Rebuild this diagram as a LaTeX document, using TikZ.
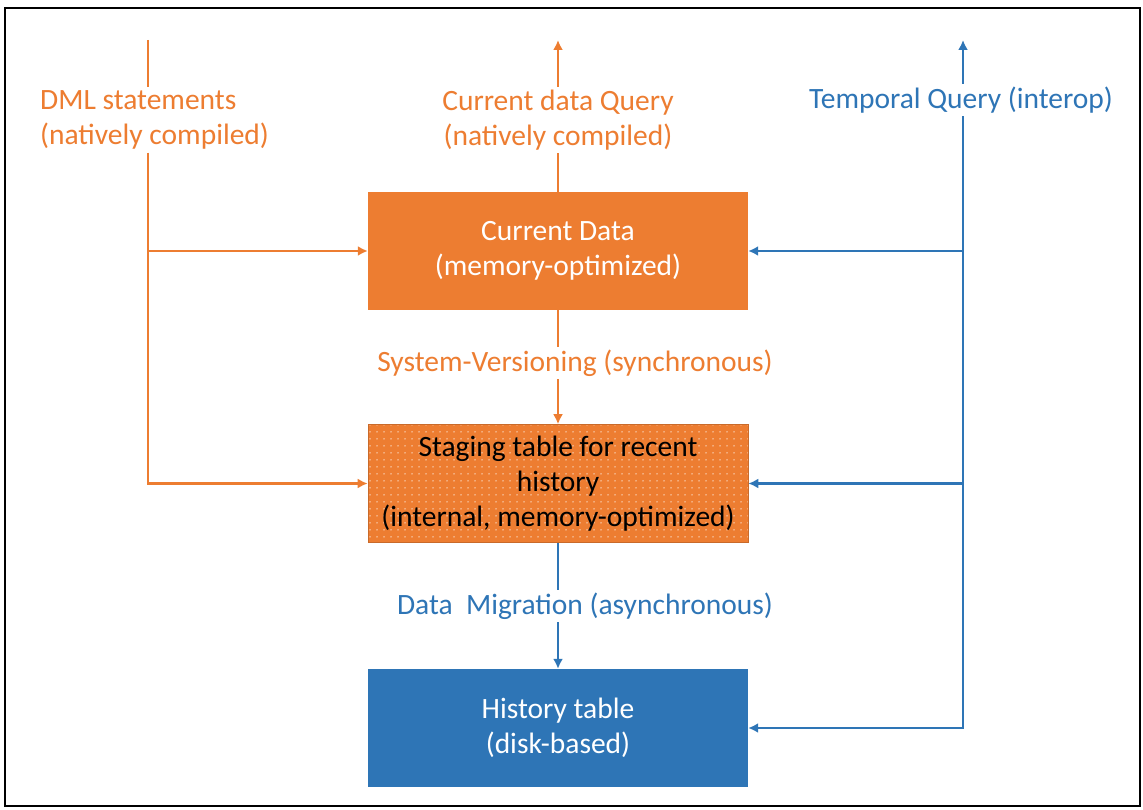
\documentclass[tikz,border=0pt]{standalone}
\usepackage{fontspec}
\setmainfont{Carlito}
\usepackage{xcolor}
\usepackage{tikz}
\usetikzlibrary{arrows.meta, positioning, patterns.meta}

\definecolor{ocol}{HTML}{ED7D31}
\definecolor{bcol}{HTML}{2E75B6}

\begin{document}
\begin{tikzpicture}[x=1pt, y=-1pt]

\tikzset{
  tablebox/.style={rectangle, draw=none, text centered, align=center,
    minimum width=380pt, minimum height=118pt, inner sep=0pt,
    font=\fontsize{29.5}{35}\selectfont},
  curbox/.style={tablebox, fill=ocol, text=white},
  stagebox/.style={tablebox, preaction={fill=ocol},
    pattern={Dots[distance=6.5pt, radius=0.8pt]}, pattern color=white!75!ocol,
    draw=ocol!85!black, line width=0.6pt, text=black},
  histbox/.style={tablebox, fill=bcol, text=white},
  olabel/.style={font=\fontsize{29.5}{35}\selectfont, text=ocol, fill=white,
    inner sep=3pt, align=center},
  blabel/.style={olabel, text=bcol},
  oline/.style={draw=ocol, line width=2.9pt},
  bline/.style={draw=bcol, line width=2.9pt},
  oarrow/.style={oline, -{Latex[length=10pt, width=10pt]}},
  barrow/.style={bline, -{Latex[length=10pt, width=10pt]}}
}

% frame
\useasboundingbox (0,0) rectangle (1143,810);
\draw[line width=2.8pt] (5,8) rectangle (1140,806);

% tables
\node[curbox] (cur) at (558,251) {Current Data\\(memory-optimized)};
\node[stagebox, below=114pt of cur] (stage)
  {Staging table for recent\\history\\(internal, memory-optimized)};
\node[histbox, below=126pt of stage] (hist) {History table\\(disk-based)};

% queries
\node[olabel, align=left, anchor=west] (dml) at (37,120)
  {DML statements\\(natively compiled)};
\node[olabel] (cdq) at (558,120)
  {Current data Query\\(natively compiled)};
\node[blabel] (tq) at (961,100) {Temporal Query (interop)};

\coordinate (dmltop) at (148,40);
\coordinate (cdqtop) at (558,40);
\coordinate (tqtop)  at (963,40);

% DML
\draw[oline]  (dmltop) -- (dmltop |- dml.north);
\draw[oarrow] (dmltop |- dml.south) |- (stage.west);
\draw[oarrow] (dmltop |- cur.west) -- (cur.west);

% current data query
\draw[oline]  (cur.north) -- (cdq.south);
\draw[oarrow] (cdq.north) -- (cdqtop);

% temporal query
\draw[barrow] (tqtop |- tq.north) -- (tqtop);
\draw[barrow] (tqtop |- tq.south) |- (hist.east);
\draw[barrow] (tqtop |- cur.east) -- (cur.east);
\draw[barrow] (tqtop |- stage.east) -- (stage.east);

% versioning and migration
\draw[oarrow] (cur.south) -- (stage.north);
\node[olabel] (sv) at (575,363) {System-Versioning (synchronous)};
\draw[barrow] (stage.south) -- (hist.north);
\node[blabel] (dm) at (585,606) {Data\ \ Migration (asynchronous)};

\end{tikzpicture}
\end{document}
